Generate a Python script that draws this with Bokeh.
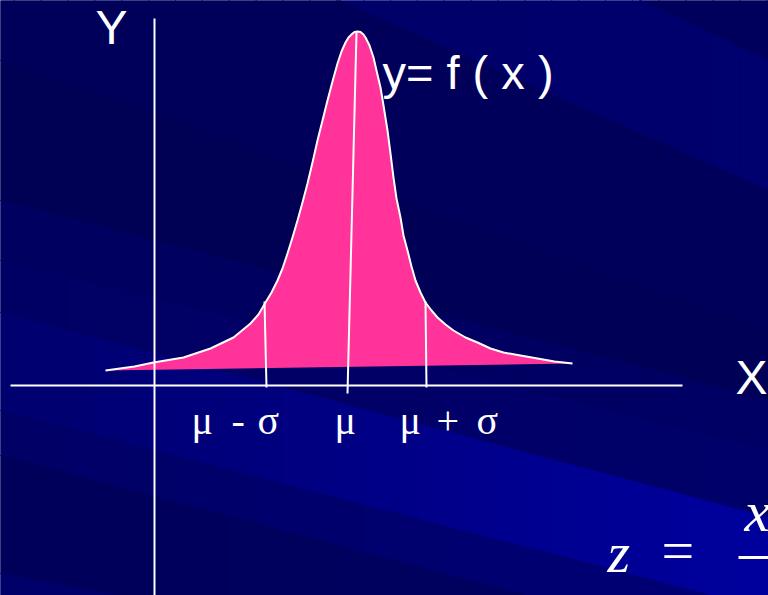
import numpy as np
from bokeh.plotting import figure
from bokeh.models import Range1d
from bokeh.core.properties import value
from bokeh.embed import file_html
from bokeh.resources import INLINE

# ---------------- data (chart units: origin at axes crossing, 1 unit = 1 px, y up) ----------
curve_x = [-49, -20, -1, 29, 56, 79, 96, 104, 111, 117, 123, 128, 133, 138, 143, 148, 153,
           158, 163, 168, 173, 178, 183, 187, 191, 194, 198, 200, 203, 206, 209, 211, 215,
           219, 222, 226, 229, 233, 236, 239, 242, 246, 249, 253, 257, 261, 266, 271, 277,
           283, 291, 299, 311, 323, 336, 349, 366, 383, 400, 418]
curve_y = [15, 19, 23, 28, 37, 48, 62, 71, 83, 93, 105, 117, 132, 148, 165, 183, 202,
           223, 245, 265, 285, 304, 322, 334, 343, 348, 352, 353.5, 354, 353.5, 351, 348, 340,
           328, 315, 298, 280, 255, 232, 208, 187, 168, 150, 135, 119, 105, 93, 83, 75,
           68, 61, 55, 48, 43, 37, 33, 30, 27, 24, 22]

mu_line_x = [202, 193]
mu_line_y = [353, -8]
lo_line_x = [110, 112]
lo_line_y = [84, -2]
hi_line_x = [271, 272]
hi_line_y = [84, -2]

tick_glyphs = ["μ", "-", "σ", "μ", "μ", "+", "σ"]
tick_glyph_x = [37, 77, 103, 180, 245, 282, 322]
tick_glyph_y = [-35, -35, -35, -35, -35, -35, -35]

x_axis_x = [-144, 528]
x_axis_y = [0, 0]
y_axis_x = [0, 0]
y_axis_y = [367, -215]

# ---------------- figure ----------------
OX, OY = 154, 385  # image pixel position of chart origin
W, H = 768, 595
p = figure(width=W, height=H,
           x_range=Range1d(0 - OX, W - OX), y_range=Range1d(OY - H, OY),
           output_backend="svg", toolbar_location=None,
           x_axis_location=None, y_axis_location=None,
           min_border=0, min_border_left=0, min_border_right=0,
           min_border_top=0, min_border_bottom=0)
p.grid.visible = False
p.outline_line_color = None
p.background_fill_color = "#00005a"
p.border_fill_color = "#00005a"

# background diagonal bands (image px boundaries: y at x=0, y at x=768)
bounds = [(-1500, -1500), (-300, 60), (-150, 190), (60, 330), (200, 400), (260, 450),
          (312, 517), (410, 610), (455, 660), (573, 720), (2000, 2000)]
# band colour: (blue at left edge, blue at right edge)
band_blue = [(0x58, 0x5c), (0x66, 0x6e), (0x5a, 0x5a), (0x55, 0x56), (0x60, 0x64),
             (0x64, 0x6a), (0x6e, 0x9e), (0x66, 0x76), (0x5a, 0x62), (0x6a, 0x78)]

def ypx(b, x):
    return b[0] + (b[1] - b[0]) * x / 768.0

NSEG = 32
edges = np.linspace(-40, 820, NSEG + 1)
xs, ys, cols = [], [], []
for i, (bl, br) in enumerate(band_blue):
    top, bot = bounds[i], bounds[i + 1]
    for k in range(NSEG):
        x0, x1 = edges[k], edges[k + 1]
        t = min(max(((x0 + x1) / 2) / 768.0, 0), 1)
        blue = int(round(bl + (br - bl) * t))
        c = "#0000%02x" % blue
        px = [x0, x1, x1, x0]
        py = [ypx(top, x0), ypx(top, x1), ypx(bot, x1), ypx(bot, x0)]
        xs.append([v - OX for v in px])
        ys.append([OY - v for v in py])
        cols.append(c)
p.patches(xs, ys, fill_color=cols, line_color=cols, line_width=1)

# filled curve
p.patch(curve_x, curve_y, fill_color="#ff3399", line_color=None)
p.line(curve_x, curve_y, line_color="white", line_width=2, line_join="round")

# internal lines
for lx, ly in [(mu_line_x, mu_line_y), (lo_line_x, lo_line_y), (hi_line_x, hi_line_y)]:
    p.line(lx, ly, line_color="white", line_width=2)

# axes
p.line(x_axis_x, x_axis_y, line_color="white", line_width=2)
p.line(y_axis_x, y_axis_y, line_color="white", line_width=2)

sans = value("Liberation Sans")
serif = value("Liberation Serif")

p.text(x=[-59], y=[358], text=["Y"], text_font=sans, text_font_size="48px",
       text_color="white", text_baseline="alphabetic", text_align="left")
p.text(x=[581], y=[8], text=["X"], text_font=sans, text_font_size="48px",
       text_color="white", text_baseline="alphabetic", text_align="left")
p.text(x=[228], y=[313], text=["y= f ( x )"], text_font=sans, text_font_size="47px",
       text_color="white", text_baseline="alphabetic", text_align="left")

p.text(x=tick_glyph_x, y=tick_glyph_y, text=tick_glyphs, text_font=serif,
       text_font_size="40px", text_color="white", text_baseline="alphabetic",
       text_align="left")

# partial formula at bottom right
p.text(x=[453], y=[-167], text=["z"], text_font=serif, text_font_style="italic",
       text_font_size="58px", text_color="white", text_baseline="alphabetic")
p.text(x=[507], y=[-165], text=["="], text_font=serif, text_font_size="58px",
       text_color="white", text_baseline="alphabetic")
p.line([584, 620], [-172, -172], line_color="white", line_width=3)
p.text(x=[590], y=[-126], text=["x"], text_font=serif, text_font_style="italic",
       text_font_size="58px", text_color="white", text_baseline="alphabetic")

open("out.html", "w").write(file_html(p, INLINE))
